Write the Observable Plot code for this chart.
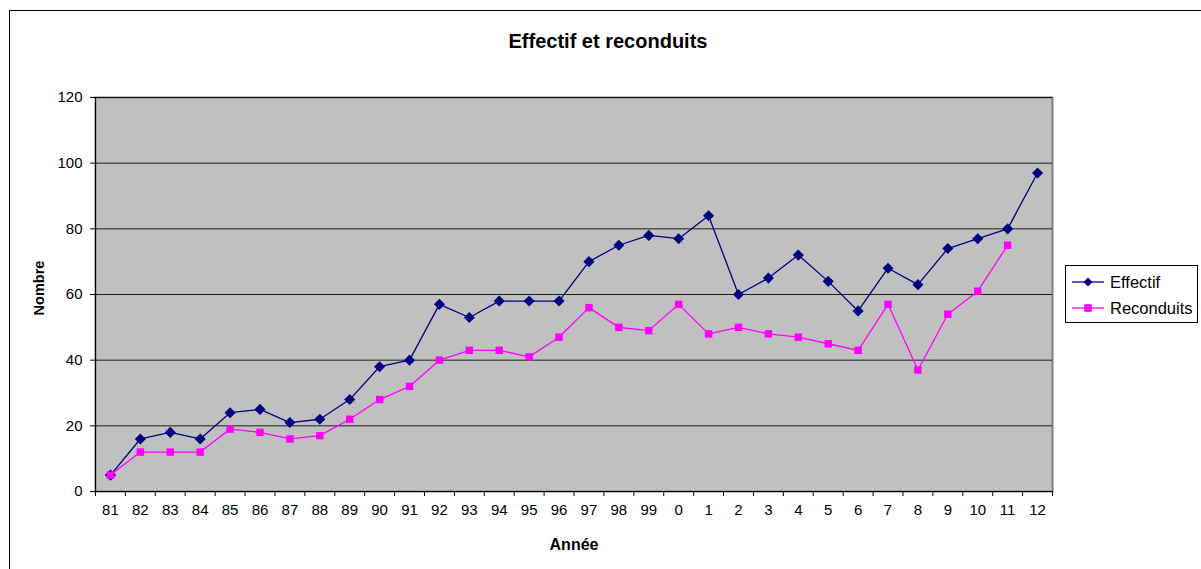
<!DOCTYPE html>
<html>
<head>
<meta charset="utf-8">
<script src="https://cdn.jsdelivr.net/npm/d3@7"></script>
<script src="https://cdn.jsdelivr.net/npm/@observablehq/plot@0.6"></script>
<style>
  html, body { margin: 0; padding: 0; background: #fff; overflow: hidden; }
  #wrap { position: relative; width: 1201px; height: 569px; font-family: "Liberation Sans", Arial, sans-serif; }
  #frame { position: absolute; left: 9px; top: 10px; width: 1200px; height: 600px; border: 1px solid #000; box-sizing: border-box; }
  #chart { position: absolute; left: 0; top: 0; }
  .lbl { position: absolute; font-weight: bold; color: #000; white-space: nowrap; line-height: 1; }
  #title { left: 0; width: 1216px; text-align: center; top: 31px; font-size: 20px; }
  #xlab { left: 0; width: 1148px; text-align: center; top: 537px; font-size: 16px; }
  #ylab { left: 39px; top: 288px; font-size: 14.5px; transform: translate(-50%, -50%) rotate(-90deg); }
  #legend { position: absolute; left: 1065px; top: 265px; width: 133px; height: 58px; border: 1px solid #000; box-sizing: border-box; background: #fff; }
</style>
</head>
<body>
<div id="wrap">
  <div id="frame"></div>
  <div id="chart"></div>
  <div class="lbl" id="title">Effectif et reconduits</div>
  <div class="lbl" id="xlab">Année</div>
  <div class="lbl" id="ylab">Nombre</div>
  <div id="legend"></div>
</div>
<script>
const years = ["81","82","83","84","85","86","87","88","89","90","91","92","93","94","95","96","97","98","99","0","1","2","3","4","5","6","7","8","9","10","11","12"];
const effectif = [5,16,18,16,24,25,21,22,28,38,40,57,53,58,58,58,70,75,78,77,84,60,65,72,64,55,68,63,74,77,80,97];
const reconduits = [5,12,12,12,19,18,16,17,22,28,32,40,43,43,41,47,56,50,49,57,48,50,48,47,45,43,57,37,54,61,75];
const yTicks = [0,20,40,60,80,100,120];
const seriesNames = ["Effectif","Reconduits"];
const colors = ["#000080","#FF00FF"];

const effData = effectif.map((v,i)=>({i, v}));
const recData = reconduits.map((v,i)=>({i, v}));
const idx = years.map((_,i)=>i);
const bounds = d3.range(0, years.length + 1).map(i => i - 0.5);

const chart = Plot.plot({
  width: 1201, height: 569,
  marginLeft: 95, marginRight: 149, marginTop: 97, marginBottom: 78,
  style: {fontFamily: "Liberation Sans, Arial, sans-serif", fontSize: "15px", color: "#000", background: "transparent"},
  x: {type: "linear", domain: [-0.5, years.length - 0.5]},
  y: {domain: [0, 120]},
  marks: [
    Plot.frame({fill: "#C0C0C0", stroke: "#808080", strokeWidth: 2}),
    Plot.ruleY(yTicks.slice(1), {stroke: "#000", strokeWidth: 1, strokeOpacity: 0.85}),
    Plot.axisX({ticks: bounds, tickSize: 5, tickFormat: () => "", label: null, stroke: "#000", strokeOpacity: 1}),
    Plot.axisX({ticks: idx, tickSize: 0, tickPadding: 13, tickFormat: i => years[i], fontSize: 15, label: null}),
    Plot.axisY({ticks: yTicks, tickSize: 5, tickPadding: 8, fontSize: 15, label: null, stroke: "#000", strokeOpacity: 1}),
    Plot.ruleX([-0.5], {stroke: "#000"}),
    Plot.ruleY([0], {stroke: "#000"}),
    Plot.line(effData, {x: "i", y: "v", stroke: colors[0], strokeWidth: 1.3}),
    Plot.line(recData, {x: "i", y: "v", stroke: colors[1], strokeWidth: 1.3}),
    Plot.dot(effData, {x: "i", y: "v", symbol: "diamond2", r: 5, fill: colors[0], stroke: null}),
    Plot.dot(recData, {x: "i", y: "v", symbol: "square", r: 4.2, fill: colors[1], stroke: null})
  ]
});
document.getElementById("chart").appendChild(chart);

// legend
const lw = 133, lh = 58;
const leg = d3.select("#legend").append("svg").attr("width", lw - 2).attr("height", lh - 2);
const syms = [d3.symbol(d3.symbolDiamond2, 50), d3.symbol(d3.symbolSquare, 56)];
seriesNames.forEach((name, k) => {
  const y = 16 + k * 26;
  leg.append("line").attr("x1", 6).attr("x2", 38).attr("y1", y).attr("y2", y).attr("stroke", colors[k]).attr("stroke-width", 1.3);
  leg.append("path").attr("d", syms[k]()).attr("transform", `translate(22,${y})`).attr("fill", colors[k]);
  leg.append("text").attr("x", 44).attr("y", y + 6).attr("font-size", 16.5).attr("font-family", "Liberation Sans, Arial, sans-serif").text(name);
});
</script>
</body>
</html>
